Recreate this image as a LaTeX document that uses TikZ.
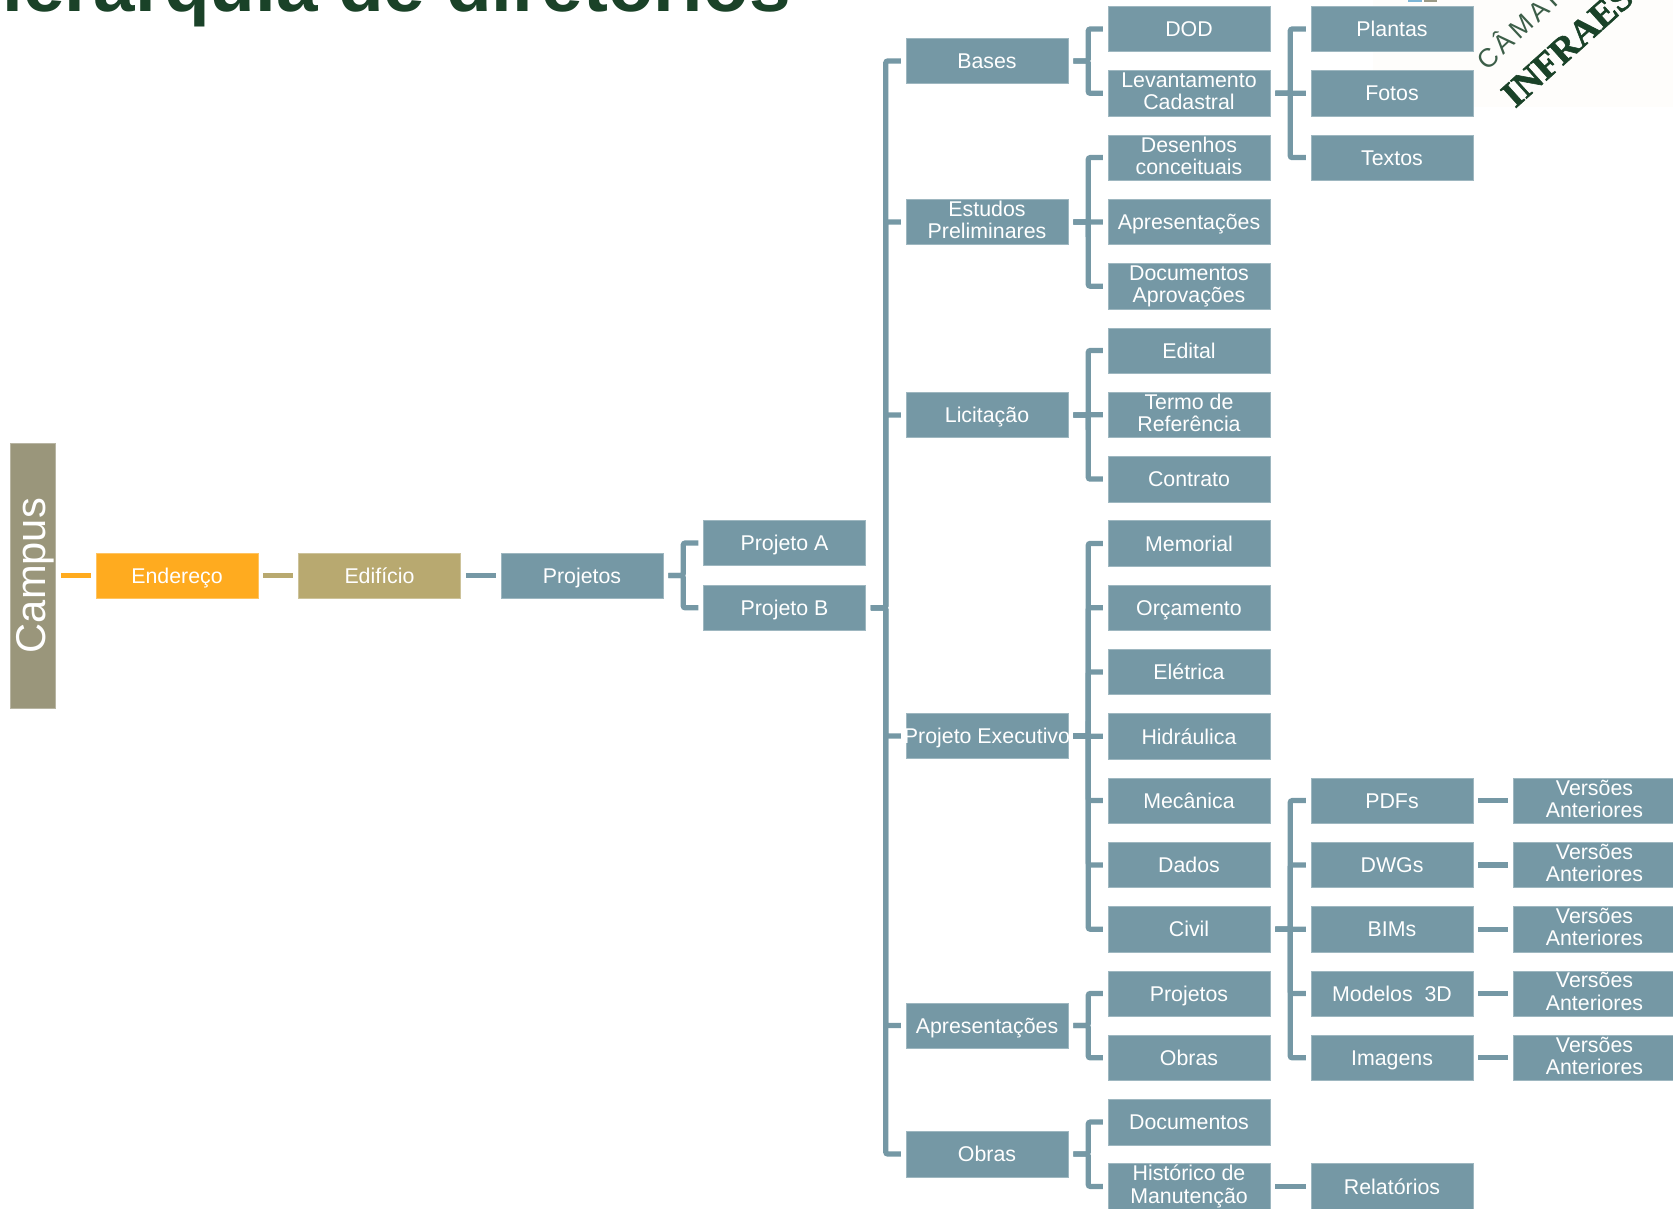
\documentclass[tikz,border=0pt]{standalone}
\usepackage{fontspec}
\setmainfont{Liberation Sans}
\newfontfamily\logoserif{Liberation Serif}
\usetikzlibrary{positioning}
\definecolor{boxblue}{HTML}{7598A5}
\definecolor{addrorange}{HTML}{FFAB1F}
\definecolor{bldgtan}{HTML}{B8A970}
\definecolor{campusgray}{HTML}{9A967B}
\definecolor{titlegreen}{HTML}{1A4228}
\definecolor{logopaper}{HTML}{FEFDFB}
\definecolor{logoblue}{HTML}{7DB6D6}
\definecolor{logogray}{HTML}{9A9A86}
\tikzset{
  boxbase/.style={fill=boxblue, draw=boxblue!70!white, line width=0.3pt, text=white, align=center,
    minimum width=3.24cm, minimum height=0.91cm, inner sep=0pt,
    font=\fontsize{12.15}{12.6}\selectfont},
  folder/.style={boxbase,
    execute at begin node={\rule{0pt}{.92em}}, execute at end node={\rule[-.2em]{0pt}{.2em}}},
  folder2/.style={boxbase, yshift=0pt,
    execute at begin node={\vspace*{.16em}\rule{0pt}{.92em}}, execute at end node={\rule[-.2em]{0pt}{.2em}}},
  link/.style={draw=boxblue, line width=0.105cm, rounded corners=0.04cm, shorten <=0.1cm, shorten >=0.1cm},
}
\begin{document}
\begin{tikzpicture}[x=0.02cm, y=-0.02cm]
  \useasboundingbox (0,0) rectangle (1673,1208);

  % logo
  \fill[logopaper] (1373,0) rectangle (1673,107);
  \fill[logoblue] (1408,0) rectangle (1422,2);
  \fill[logogray] (1424,0) rectangle (1437,2);
  \node[rotate=43, anchor=west, inner sep=0pt, text=titlegreen!85!white,
    font=\fontsize{15}{15}\selectfont\addfontfeature{LetterSpace=15}] (camara) at (1479,63) {CÂMARA};
  \node[rotate=42, anchor=west, inner sep=0pt, text=titlegreen,
    font=\logoserif\fontsize{21}{21}\bfseries\selectfont\addfontfeature{FakeBold=1.5}] (infraes) at (1507,100) {INFRAES};

  % title
  \node[anchor=base west, inner sep=0pt, text=titlegreen, font=\fontsize{42.5}{42.5}\bfseries\selectfont] (title) at (-52,11) {Hierarquia de diretórios};

  % left column
  \node[boxbase, fill=campusgray, draw=campusgray!70!white, minimum width=5.3cm, rotate=90, font=\fontsize{23.7}{24}\selectfont,
    execute at begin node={\rule{0pt}{.82em}}, execute at end node={\rule[-.21em]{0pt}{.21em}}] (campus) at (33,575.6) {Campus};
  \node[folder, fill=addrorange, draw=addrorange!70!white] (endereco) at (177,575.6) {Endereço};
  \node[folder, fill=bldgtan, draw=bldgtan!70!white] (edificio) at (379.5,575.6) {Edifício};
  \node[folder] (projetos) at (582,575.6) {Projetos};
  \node[folder] (projA) at (784.5,543) {Projeto A};
  \node[folder] (projB) at (784.5,607.8) {Projeto B};

  % phases
  \node[folder] (bases) at (987,61) {Bases};
  \node[folder2] (estudos) at (987,222) {Estudos\\Preliminares};
  \node[folder] (licitacao) at (987,415) {Licitação};
  \node[folder] (executivo) at (987,736) {\makebox[3.2cm]{Projeto Executivo}};
  \node[folder] (apres) at (987,1025.5) {Apresentações};
  \node[folder] (obras) at (987,1154) {Obras};

  % folders of each phase
  \node[folder] (dod) at (1189,29) {DOD};
  \node[folder2] (levant) at (1189,93.3) {Levantamento\\Cadastral};
  \node[folder2] (desenhos) at (1189,157.6) {Desenhos\\conceituais};
  \node[folder] (apresent) at (1189,221.9) {Apresentações};
  \node[folder2] (docaprov) at (1189,286.2) {Documentos\\Aprovações};
  \node[folder] (edital) at (1189,350.5) {Edital};
  \node[folder2] (termo) at (1189,414.8) {Termo de\\Referência};
  \node[folder] (contrato) at (1189,479.1) {Contrato};
  \node[folder] (memorial) at (1189,543.4) {Memorial};
  \node[folder] (orcamento) at (1189,607.7) {Orçamento};
  \node[folder] (eletrica) at (1189,672) {Elétrica};
  \node[folder] (hidraulica) at (1189,736.3) {Hidráulica};
  \node[folder] (mecanica) at (1189,800.6) {Mecânica};
  \node[folder] (dados) at (1189,864.9) {Dados};
  \node[folder] (civil) at (1189,929.2) {Civil};
  \node[folder] (approj) at (1189,993.5) {Projetos};
  \node[folder] (apobras) at (1189,1057.8) {Obras};
  \node[folder] (documentos) at (1189,1122.1) {Documentos};
  \node[folder2] (historico) at (1189,1186.4) {Histórico de\\Manutenção};

  % third level
  \node[folder] (plantas) at (1392,29) {Plantas};
  \node[folder] (fotos) at (1392,93.3) {Fotos};
  \node[folder] (textos) at (1392,157.6) {Textos};
  \node[folder] (pdfs) at (1392,800.6) {PDFs};
  \node[folder] (dwgs) at (1392,864.9) {DWGs};
  \node[folder] (bims) at (1392,929.2) {BIMs};
  \node[folder] (modelos) at (1392,993.5) {Modelos\ \ 3D};
  \node[folder] (imagens) at (1392,1057.8) {Imagens};
  \node[folder] (relatorios) at (1392,1186.4) {Relatórios};

  % old versions
  \foreach \name in {pdfs,dwgs,bims,modelos,imagens} {
    \node[folder2, right=0.8cm of \name] (\name old) {Versões\\Anteriores};
    \draw[link] (\name.east) -- (\name old.west);
  }

  % connectors
  \draw[link, draw=addrorange] (campus.south) -- (endereco.west);
  \draw[link, draw=bldgtan] (endereco.east) -- (edificio.west);
  \draw[link] (edificio.east) -- (projetos.west);
  \draw[link] (historico.east) -- (relatorios.west);
  \foreach \child in {projA,projB}
    \draw[link] (projetos.east) -- ++(20,0) |- (\child.west);
  \foreach \child in {bases,estudos,licitacao,executivo,apres,obras}
    \draw[link] (projB.east) -- ++(20,0) |- (\child.west);
  \foreach \child in {dod,levant}
    \draw[link] (bases.east) -- ++(20,0) |- (\child.west);
  \foreach \child in {desenhos,apresent,docaprov}
    \draw[link] (estudos.east) -- ++(20,0) |- (\child.west);
  \foreach \child in {edital,termo,contrato}
    \draw[link] (licitacao.east) -- ++(20,0) |- (\child.west);
  \foreach \child in {memorial,orcamento,eletrica,hidraulica,mecanica,dados,civil}
    \draw[link] (executivo.east) -- ++(20,0) |- (\child.west);
  \foreach \child in {approj,apobras}
    \draw[link] (apres.east) -- ++(20,0) |- (\child.west);
  \foreach \child in {documentos,historico}
    \draw[link] (obras.east) -- ++(20,0) |- (\child.west);
  \foreach \child in {plantas,fotos,textos}
    \draw[link] (levant.east) -- ++(20,0) |- (\child.west);
  \foreach \child in {pdfs,dwgs,bims,modelos,imagens}
    \draw[link] (civil.east) -- ++(20,0) |- (\child.west);
\end{tikzpicture}
\end{document}
